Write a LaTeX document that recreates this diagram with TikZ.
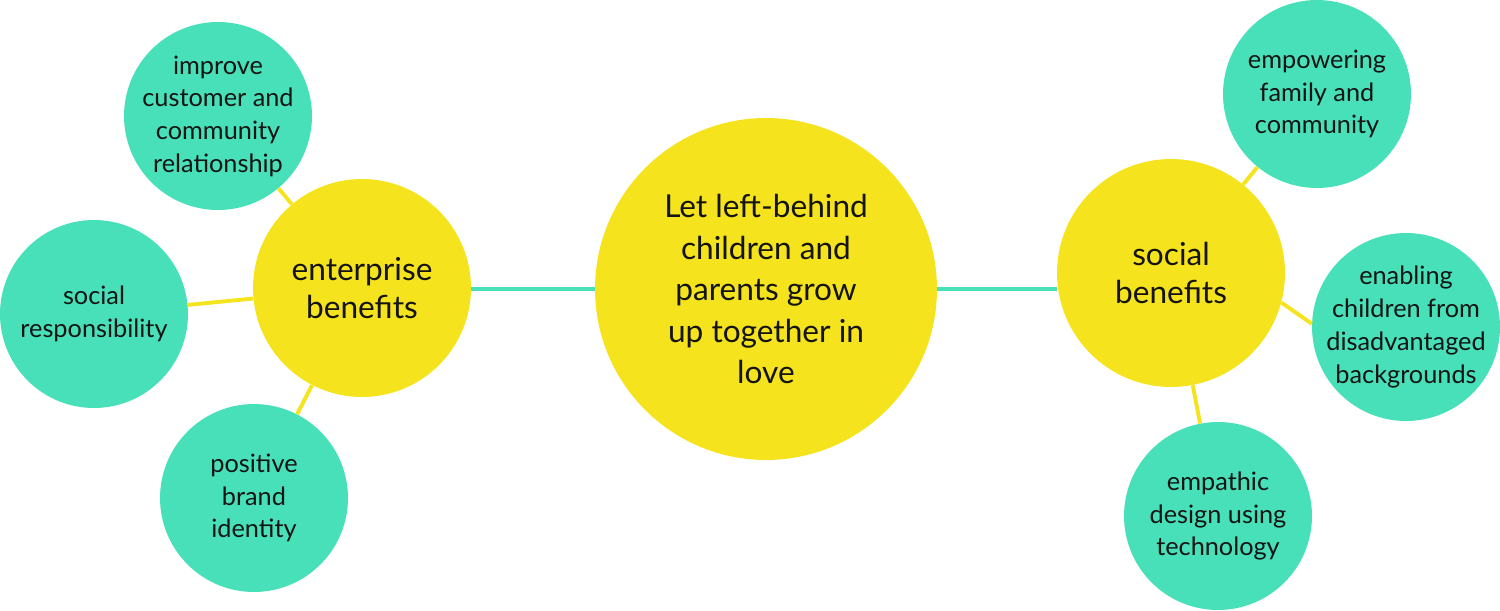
\documentclass[tikz,border=0pt]{standalone}
\usepackage{fontspec}
\setmainfont{Lato}
\usepackage{xcolor}
\usepackage{tikz}
\usetikzlibrary{positioning}

\definecolor{mintgreen}{HTML}{48E0B8}
\definecolor{sunyellow}{HTML}{F5E31D}
\definecolor{inkblack}{HTML}{141414}

\tikzset{
    hub/.style={circle, fill=sunyellow, inner sep=0pt, align=center, text=inkblack,
        font=\fontsize{18}{21.6}\selectfont},
    leaf/.style={circle, fill=mintgreen, inner sep=-4pt, minimum size=3.76cm, align=center,
        text=inkblack, font=\fontsize{14.4}{18.6}\selectfont},
    yline/.style={sunyellow, line width=2.2pt},
    gline/.style={mintgreen, line width=1.9pt}
}

\begin{document}
\begin{tikzpicture}[x=0.02cm, y=-0.02cm]
    \useasboundingbox (0,0) rectangle (1500,611);

    % 1. Vòng tròn trung tâm và hai vòng tròn vàng
    \node[hub, minimum size=6.84cm, font=\fontsize{18}{23.6}\selectfont] (core) at (766,289)
        {Let left-behind\\children and\\parents grow\\up together in\\love};
    \node[hub, minimum size=4.36cm] (enterprise) at (362,288) {enterprise\\benefits};
    \node[hub, minimum size=4.56cm] (social) at (1171,273) {social\\benefits};

    % 2. Các vòng tròn xanh bên trái
    \node[leaf] (improve) at (218,116) {improve\\customer and\\community\\relationship};
    \node[leaf] (responsibility) at (94,314) {social\\responsibility};
    \node[leaf] (brand) at (254,498) {positive\\brand\\identity};

    % 3. Các vòng tròn xanh bên phải
    \node[leaf] (empower) at (1317,94) {empowering\\family and\\community};
    \node[leaf] (enabling) at (1406,327) {enabling\\children from\\disadvantaged\\backgrounds};
    \node[leaf] (empathic) at (1218,516) {empathic\\design using\\technology};

    % Đường nối
    \draw[gline] (enterprise.east |- core.west) -- (core.west);
    \draw[gline] (core.east) -- (social.west |- core.east);
    \draw[yline] (enterprise) -- (improve);
    \draw[yline] (enterprise) -- (responsibility);
    \draw[yline] (enterprise) -- (brand);
    \draw[yline] (social) -- (empower);
    \draw[yline] (social.-15) -- (enabling.178);
    \draw[yline] (social) -- (empathic);

\end{tikzpicture}
\end{document}
